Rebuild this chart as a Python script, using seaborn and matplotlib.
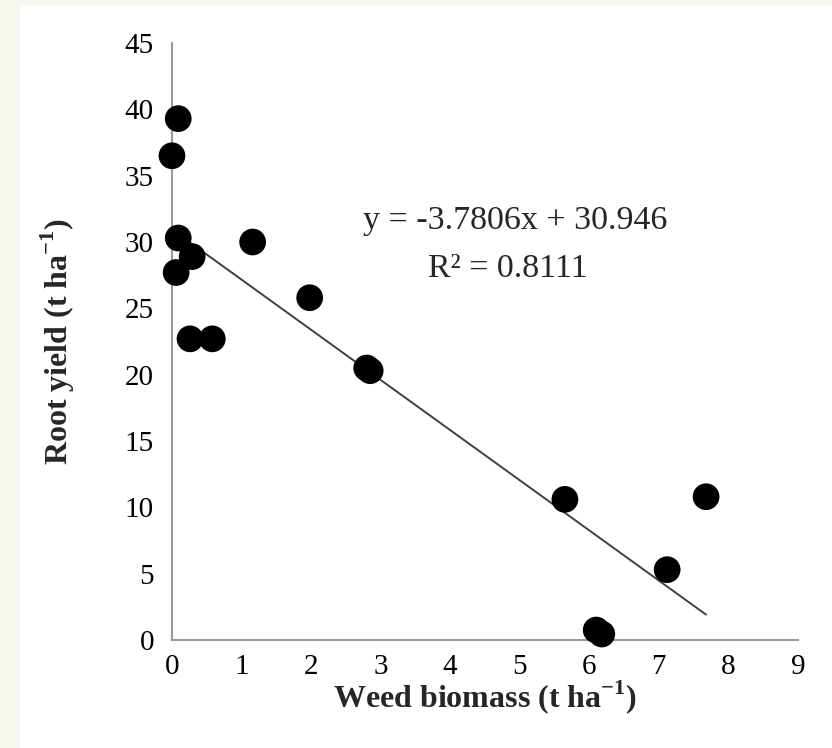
import numpy as np
import pandas as pd
import matplotlib
matplotlib.use("Agg")
import matplotlib.pyplot as plt
from matplotlib.patches import Rectangle
import seaborn as sns

# weed biomass (t/ha) and root yield (t/ha)
weed_biomass = [0.09, 0.0, 0.09, 0.06, 0.29, 1.16, 0.26, 0.58, 1.98, 2.80, 2.85,
                5.65, 6.10, 6.18, 7.12, 7.68]
root_yield = [39.3, 36.5, 30.3, 27.7, 28.9, 30.0, 22.7, 22.7, 25.8, 20.5, 20.3,
              10.6, 0.75, 0.45, 5.3, 10.8]

# trendline from the figure
slope = -3.7806
intercept = 30.946
r2 = 0.8111

df = pd.DataFrame({'weed': weed_biomass, 'root': root_yield})

sns.set_style("white")
plt.rcParams['font.family'] = ['Liberation Serif', 'DejaVu Serif']
plt.rcParams['mathtext.fontset'] = 'custom'
plt.rcParams['mathtext.rm'] = 'Liberation Serif'
plt.rcParams['mathtext.bf'] = 'Liberation Serif:bold'

fig = plt.figure(figsize=(8.32, 7.48), dpi=100)
fig.patch.set_facecolor('#f6f7ee')
fig.patches.append(Rectangle((20 / 832, 0), 1, 1 - 5 / 748, transform=fig.transFigure,
                             facecolor='white', edgecolor='none', zorder=-10))
ax = fig.add_axes([0.2067, 0.1444, 0.7523, 0.7981])
ax.set_zorder(5)
ax.set_facecolor('none')

# trendline over the data range
line_x = np.array([min(weed_biomass), max(weed_biomass)])
line_df = pd.DataFrame({'weed': line_x, 'root': slope * line_x + intercept})
sns.lineplot(data=line_df, x='weed', y='root', color='#404040', linewidth=1.4, ax=ax, zorder=2)

sns.scatterplot(data=df, x='weed', y='root', color='black', s=370, edgecolor='none',
                ax=ax, zorder=3, clip_on=False)

ax.set_xlim(0, 9)
ax.set_ylim(0, 45)
ax.set_xticks(range(0, 10))
ax.set_yticks(range(0, 50, 5))

for side in ['top', 'right']:
    ax.spines[side].set_visible(False)
for side in ['left', 'bottom']:
    ax.spines[side].set_color('#9a9a9a')
    ax.spines[side].set_linewidth(1.5)

ax.tick_params(axis='both', direction='in', length=7, width=1.3, color='#9a9a9a',
               labelsize=21, labelcolor='black')
ax.tick_params(axis='x', pad=10)
ax.tick_params(axis='y', pad=13)

ax.set_xlabel(r'Weed biomass (t ha$^{\mathbf{-1}}$)', fontsize=23, fontweight='bold', labelpad=-1)
ax.set_ylabel(r'Root yield (t ha$^{\mathbf{-1}}$)', fontsize=23, fontweight='bold', labelpad=34)

ax.text(4.93, 31.6, f'y = {slope}x + {intercept}', fontsize=24.5, ha='center', va='center')
ax.text(4.83, 28.0, f'R² = {r2}', fontsize=24.5, ha='center', va='center')

fig.savefig('out.png', dpi=100, facecolor=fig.get_facecolor())
